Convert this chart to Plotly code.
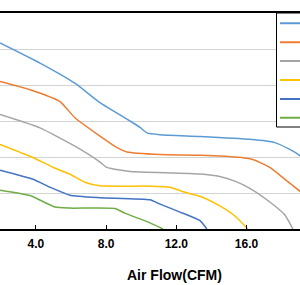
import plotly.graph_objects as go

names = ["12V", "10V", "9V", "8V", "7V", "6V"]
colors = ["#5B9BD5", "#ED7D31", "#A5A5A5", "#FFC000", "#4472C4", "#70AD47"]

s1_x = [1.95, 4.23, 6.22, 7.65, 9.36, 9.93, 10.33, 11.07, 13.35, 16.19, 17.62, 18.47, 19.04, 19.6]
s1_y = [5.17, 4.61, 4.05, 3.51, 3.00, 2.82, 2.67, 2.62, 2.57, 2.49, 2.40, 2.21, 2.04, 1.8]

s2_x = [1.95, 3.66, 5.37, 6.22, 7.65, 8.62, 9.19, 11.07, 13.35, 15.62, 16.48, 17.33, 18.19, 19.04, 19.5]
s2_y = [4.10, 3.87, 3.54, 3.09, 2.58, 2.26, 2.14, 2.07, 2.05, 1.99, 1.91, 1.71, 1.38, 1.05, 0.8]

s3_x = [1.95, 4.23, 6.22, 7.65, 8.04, 8.50, 9.36, 13.35, 14.48, 15.34, 16.19, 17.33, 18.19, 18.64]
s3_y = [3.18, 2.81, 2.30, 1.86, 1.71, 1.66, 1.60, 1.53, 1.46, 1.33, 1.13, 0.75, 0.39, 0.0]

s4_x = [1.95, 3.66, 5.00, 5.94, 6.79, 7.65, 10.50, 11.63, 12.49, 13.35, 14.48, 15.34, 16.08]
s4_y = [2.35, 2.02, 1.71, 1.52, 1.30, 1.20, 1.19, 1.16, 1.02, 0.91, 0.64, 0.36, 0.0]

s5_x = [1.95, 3.83, 4.80, 5.94, 7.65, 10.50, 11.07, 12.21, 13.35, 13.74]
s5_y = [1.63, 1.38, 1.16, 0.94, 0.87, 0.81, 0.69, 0.47, 0.23, 0.0]

s6_x = [1.95, 3.66, 5.08, 5.94, 8.50, 9.07, 9.93, 10.50, 11.24]
s6_y = [1.08, 0.93, 0.61, 0.58, 0.57, 0.44, 0.28, 0.17, 0.0]

xs = [s1_x, s2_x, s3_x, s4_x, s5_x, s6_x]
ys = [s1_y, s2_y, s3_y, s4_y, s5_y, s6_y]

x_title = "Air Flow(CFM)"

W, H = 300, 285
M_T, M_B = 13, 56
PH = H - M_T - M_B  # plot area height in px


def py2paper(py):
    return (H - M_B - py) / PH


fig = go.Figure()
for n, c, x, y in zip(names, colors, xs, ys):
    fig.add_trace(go.Scatter(x=x, y=y, mode="lines", name=n, showlegend=False,
                             line=dict(color=c, width=1.5, shape="spline", smoothing=0.5)))

# legend box (partly outside the visible window, as in the reference crop)
shapes = [dict(type="rect", xref="paper", yref="paper", layer="above",
               x0=276.5 / W, x1=330 / W, y0=py2paper(127), y1=py2paper(13),
               line=dict(color="black", width=1), fillcolor="white")]
for i, c in enumerate(colors):
    yy = py2paper(23.3 + i * 18.9)
    shapes.append(dict(type="line", xref="paper", yref="paper", layer="above",
                       x0=280 / W, x1=320 / W, y0=yy, y1=yy,
                       line=dict(color=c, width=2)))

fig.update_layout(
    width=W, height=H,
    margin=dict(l=0, r=0, t=M_T, b=M_B),
    paper_bgcolor="white", plot_bgcolor="white",
    font=dict(family="Liberation Sans, Arial, sans-serif", size=12, color="black"),
    showlegend=False,
    xaxis=dict(range=[1.95, 19.05], tick0=0, dtick=4, tickformat=".1f",
               showgrid=False, zeroline=False,
               showline=True, linecolor="black", linewidth=2, mirror=True,
               ticks="inside", ticklen=4, tickcolor="black", tickwidth=1,
               ticklabelstandoff=3,
               tickfont=dict(family="Liberation Sans, Arial, sans-serif", size=12,
                             color="black", weight="bold")),
    yaxis=dict(range=[0, 6], dtick=1, showticklabels=False, showgrid=True,
               gridcolor="#d4d4d4", gridwidth=1, zeroline=False, showline=False,
               ticks=""),
    shapes=shapes,
    annotations=[dict(text=x_title, xref="paper", yref="paper",
                      x=174.5 / W, y=py2paper(275), xanchor="center", yanchor="middle",
                      showarrow=False,
                      font=dict(family="Liberation Sans, Arial, sans-serif", size=14,
                                color="black", weight="bold"))],
)

fig.write_html("out.html")
